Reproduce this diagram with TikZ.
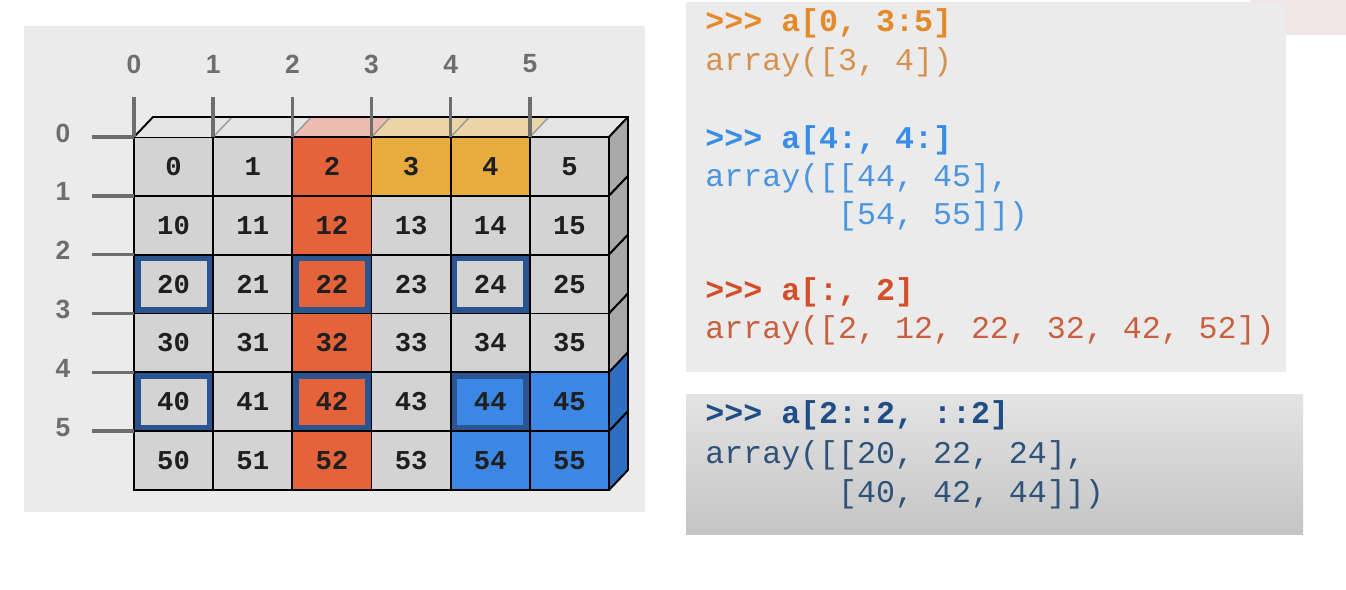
\documentclass[tikz,border=0pt]{standalone}
\usepackage{fontspec}
\usetikzlibrary{calc}
\newfontfamily\monofont{Liberation Mono}
\newfontfamily\labelfont{Liberation Sans}
\definecolor{bggray}{HTML}{EBEBEB}
\definecolor{cellgray}{HTML}{D3D3D3}
\definecolor{colred}{HTML}{E5633A}
\definecolor{colyel}{HTML}{E8AC3E}
\definecolor{colblue}{HTML}{3B87E3}
\definecolor{pickblue}{HTML}{2A5590}
\definecolor{topgray}{HTML}{E4E4E4}
\definecolor{topred}{HTML}{EBBCAF}
\definecolor{topyel}{HTML}{EBD5A6}
\definecolor{sidegray}{HTML}{A9A9A9}
\definecolor{sideblue}{HTML}{2F6FC2}
\definecolor{tickgray}{HTML}{6E6E6E}
\definecolor{pinkbox}{HTML}{F1E5E7}
\definecolor{orangeP}{HTML}{E58A2B}
\definecolor{orangeA}{HTML}{D49250}
\definecolor{blueP}{HTML}{3A8DE6}
\definecolor{blueA}{HTML}{4A95DD}
\definecolor{redP}{HTML}{D24F2A}
\definecolor{redA}{HTML}{C8603F}
\definecolor{navyP}{HTML}{1F4D86}
\definecolor{navyA}{HTML}{2F527A}
\begin{document}
\begin{tikzpicture}[x=0.02cm, y=-0.02cm,
  cell/.style={rectangle, draw=black, line width=1.1pt, minimum width=1.583cm,
               minimum height=1.177cm, inner sep=0pt, outer sep=0pt, text=black!88,
               font=\monofont\bfseries\fontsize{15.5}{16}\selectfont},
  gcell/.style={cell, fill=cellgray},
  rcell/.style={cell, fill=colred},
  ycell/.style={cell, fill=colyel},
  bcell/.style={cell, fill=colblue},
  pick/.style={path picture={\draw[pickblue, line width=0.26cm]
               (path picture bounding box.south west) rectangle (path picture bounding box.north east);}},
  gpick/.style={gcell, pick}, rpick/.style={rcell, pick}, bpick/.style={bcell, pick},
  edge/.style={draw=black, line width=1.1pt, line join=round},
  topline/.style={gray!80, line width=0.8pt},
  tick/.style={tickgray, line width=2pt},
  axlabel/.style={text=tickgray, inner sep=0pt, font=\labelfont\bfseries\fontsize{15}{16}\selectfont},
  code/.style={anchor=base west, inner sep=0pt, font=\monofont\fontsize{18}{20}\selectfont},
  prompt/.style={code, font=\monofont\bfseries\fontsize{18}{20}\selectfont}
]
  \fill[white] (0,0) rectangle (1346,590);
  \useasboundingbox (0,0) rectangle (1346,590);

  \fill[bggray] (24,26) rectangle (645,512);
  \fill[pinkbox] (1250,0) rectangle (1346,35);
  \fill[bggray] (686,2) rectangle (1286,372);
  \shade[top color=black!11, bottom color=black!23] (686,395) rectangle (1303,535);

  \foreach \r/\row in {0/{gcell,gcell,rcell,ycell,ycell,gcell},
                       1/{gcell,gcell,rcell,gcell,gcell,gcell},
                       2/{gpick,gcell,rpick,gcell,gpick,gcell},
                       3/{gcell,gcell,rcell,gcell,gcell,gcell},
                       4/{gpick,gcell,rpick,gcell,bpick,bcell},
                       5/{gcell,gcell,rcell,gcell,bcell,bcell}}
    \foreach \s [count=\c from 0] in \row
      \node[\s] (c\r\c) at ({134+79.17*(\c+0.5)}, {137+58.83*(\r+0.5)}) {\ifnum\r=0 \c\else\r\c\fi};

  \foreach \c/\tc in {0/topgray,1/topgray,2/topred,3/topyel,4/topyel,5/topgray}
    \fill[\tc] (c0\c.north west) -- (c0\c.north east) -- ++(19,-20) -- ++(-79.17,0) -- cycle;
  \foreach \c in {1,...,5}
    \draw[topline] (c0\c.north west) -- ++(19,-20);
  \draw[edge] (c00.north west) -- ++(19,-20) -- ++(475,0) -- (c05.north east) -- (c00.north east);

  \foreach \r/\sc in {0/sidegray,1/sidegray,2/sidegray,3/sidegray,4/sideblue,5/sideblue}
    \filldraw[edge, fill=\sc] (c\r5.north east) -- ++(19,-20) -- ++(0,58.83) -- (c\r5.south east) -- cycle;

  \foreach \c in {0,...,5} {
    \draw[tick] (c0\c.north west) -- ++(0,-40);
    \node[axlabel] (col\c) at ($(c0\c.north west)+(0,-73)$) {\c};
  }
  \foreach \r in {0,...,5} {
    \draw[tick] (c\r0.north west) -- ++(-42,0);
    \node[axlabel] (row\r) at ($(c\r0.north west)+(-71,-4)$) {\r};
  }

  \node[prompt, text=orangeP] (q1) at (705,32) {>>> a[0, 3:5]};
  \node[code, text=orangeA] (a1) at (705,71) {array([3, 4])};
  \node[prompt, text=blueP] (q2) at (705,149) {>>> a[4:, 4:]};
  \node[code, text=blueA] (a2) at (705,187) {array([[44, 45],};
  \node[code, text=blueA] (a2b) at (705,225) {\phantom{array([}[54, 55]])};
  \node[prompt, text=redP] (q3) at (705,301) {>>> a[:, 2]};
  \node[code, text=redA] (a3) at (705,339) {array([2, 12, 22, 32, 42, 52])};
  \node[prompt, text=navyP] (q4) at (705,424) {>>> a[2::2, ::2]};
  \node[code, text=navyA] (a4) at (705,464) {array([[20, 22, 24],};
  \node[code, text=navyA] (a4b) at (705,503) {\phantom{array([}[40, 42, 44]])};
\end{tikzpicture}
\end{document}
